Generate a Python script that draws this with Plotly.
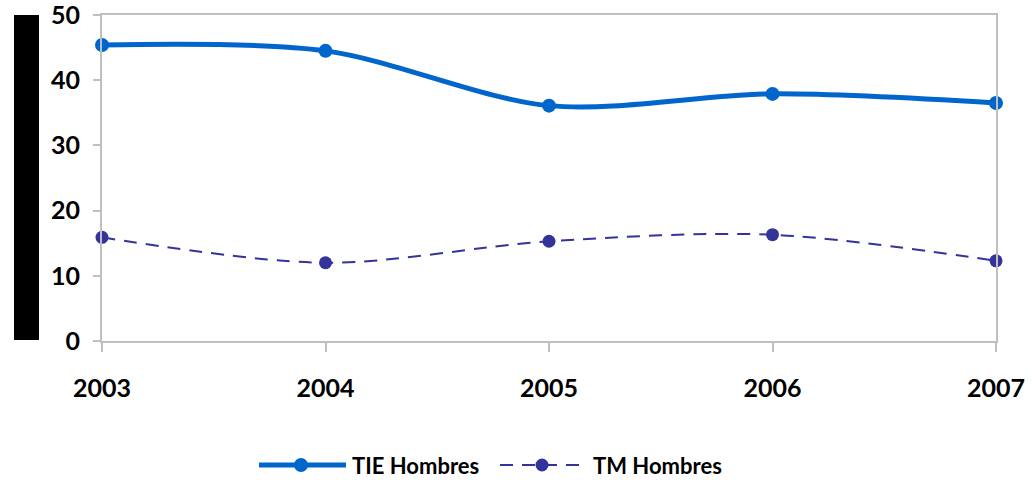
import plotly.graph_objects as go

years = [2003, 2004, 2005, 2006, 2007]
tie_hombres = [45.4, 44.5, 36.1, 37.9, 36.5]
tm_hombres = [15.9, 12.0, 15.3, 16.3, 12.3]
y_ticks = [0, 10, 20, 30, 40, 50]
series_names = ["TIE Hombres", "TM Hombres"]

W, H = 1032, 480
L, R, T, B = 102, 36, 15, 139
PW, PH = W - L - R, H - T - B
FONT = "Lato, Open Sans, sans-serif"
C_TIE = "#0066CC"
C_TM = "#333399"
GRAY = "#BFBFBF"


def px_x(px):
    return (px - L) / PW


def px_y(py):
    return (H - B - py) / PH


fig = go.Figure()
fig.add_trace(go.Scatter(
    x=years, y=tie_hombres, name=series_names[0], mode="lines+markers",
    line=dict(color=C_TIE, width=5, shape="spline", smoothing=0.9),
    marker=dict(color=C_TIE, size=14), cliponaxis=False, showlegend=False))
fig.add_trace(go.Scatter(
    x=years, y=tm_hombres, name=series_names[1], mode="lines+markers",
    line=dict(color=C_TM, width=2, shape="spline", smoothing=0.9, dash="13px,9px"),
    marker=dict(color=C_TM, size=13), cliponaxis=False, showlegend=False))

shapes = []
# black block at left (y-axis title placeholder)
shapes.append(dict(type="rect", xref="paper", yref="paper",
                   x0=px_x(14), x1=px_x(39), y0=px_y(340), y1=px_y(15),
                   fillcolor="black", line=dict(width=0), layer="above"))

# custom legend
ly = 465
annotations = []
def legend_item(x0, x1, xm, color, width, dash, msize, tx, label):
    shapes.append(dict(type="line", xref="paper", yref="paper",
                       x0=px_x(x0), x1=px_x(x1), y0=px_y(ly), y1=px_y(ly),
                       line=dict(color=color, width=width, dash=dash)))
    r = msize / 2
    shapes.append(dict(type="circle", xref="paper", yref="paper",
                       x0=px_x(xm - r), x1=px_x(xm + r), y0=px_y(ly + r), y1=px_y(ly - r),
                       fillcolor=color, line=dict(width=0)))
    annotations.append(dict(xref="paper", yref="paper", x=px_x(tx), y=px_y(ly),
                            xanchor="left", yanchor="middle", showarrow=False,
                            text=label, font=dict(family=FONT, size=22, color="black", weight="bold")))

legend_item(259, 346, 301, C_TIE, 5, "solid", 14, 350, series_names[0])
legend_item(500, 586, 542, C_TM, 2, "13px,9px", 13, 591, series_names[1])

fig.update_layout(
    width=W, height=H,
    margin=dict(l=L, r=R, t=T, b=B, pad=0, autoexpand=False),
    plot_bgcolor="white", paper_bgcolor="white",
    shapes=shapes, annotations=annotations,
    xaxis=dict(range=[2003, 2007], tickvals=years, ticktext=[str(y) for y in years],
               showgrid=False, zeroline=False, showline=True, linecolor=GRAY, linewidth=2,
               mirror=True, ticks="outside", ticklen=9, tickcolor=GRAY, tickwidth=2,
               ticklabelstandoff=15, ticklabeloverflow="allow",
               tickfont=dict(family=FONT, size=25, color="black", weight="bold")),
    yaxis=dict(range=[0, 50], tickvals=y_ticks, ticktext=[str(v) for v in y_ticks],
               showgrid=False, zeroline=False,
               showline=True, linecolor=GRAY, linewidth=2, mirror=True,
               ticks="outside", ticklen=7, tickcolor=GRAY, tickwidth=2,
               ticklabelstandoff=8, ticklabeloverflow="allow",
               tickfont=dict(family=FONT, size=25, color="black", weight="bold")),
)

fig.write_html("out.html", config={"displayModeBar": False},
               post_script="document.body.style.margin='0';")
